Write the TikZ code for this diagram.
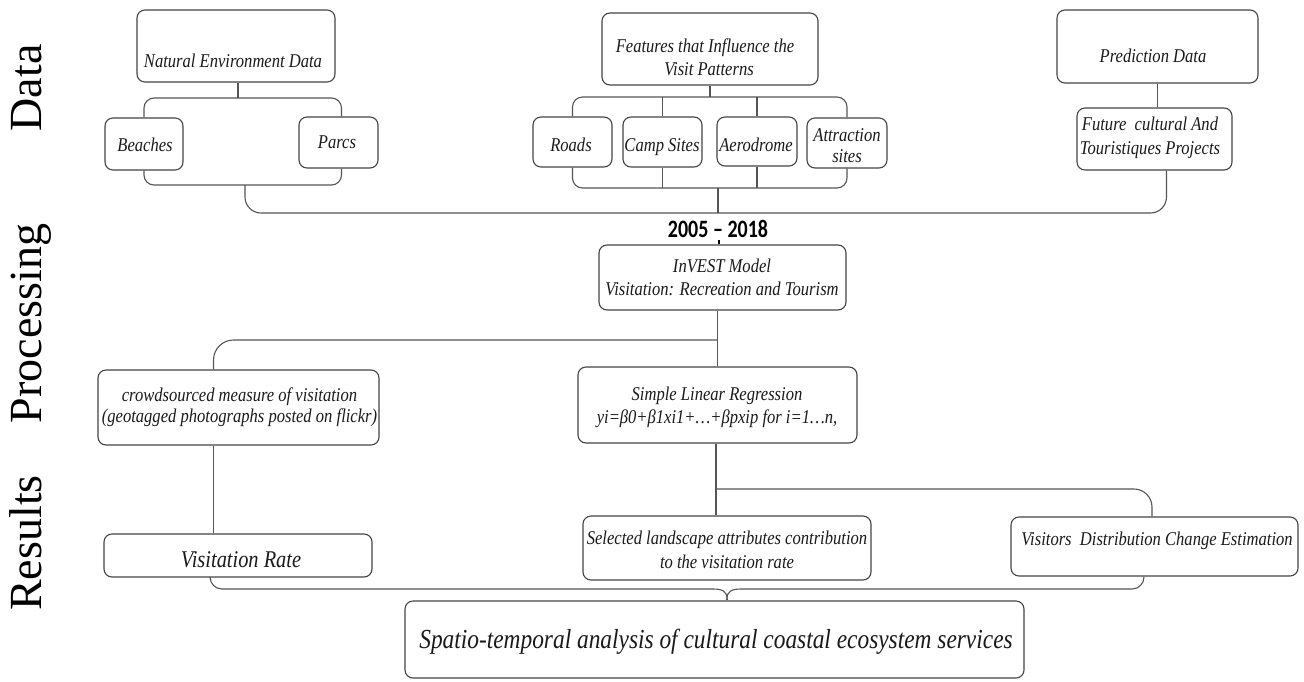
\documentclass[tikz,border=0pt]{standalone}
\usepackage{fontspec}
\setmainfont{Liberation Serif}
\newfontfamily\cserif[FakeStretch=0.85]{Liberation Serif}
\newfontfamily\calib[FakeStretch=0.8]{Carlito}
\definecolor{linec}{HTML}{555555}
\definecolor{boxc}{HTML}{444444}
\definecolor{txtc}{HTML}{1A1A1A}
\begin{document}
\begin{tikzpicture}[x=1pt,y=-1pt,
  box/.style={draw=boxc, line width=1.1pt, rounded corners=8pt, inner sep=0pt},
  conn/.style={draw=linec, line width=1.1pt},
  t/.style={inner sep=0pt, anchor=base, text=txtc, font=\fontsize{19.5}{22}\cserif\itshape},
  tb/.style={inner sep=0pt, anchor=base, text=txtc, font=\fontsize{24}{28}\cserif\itshape},
  side/.style={inner sep=0pt, anchor=base, rotate=90, text=black, font=\fontsize{46}{46}\selectfont},
]
\fill[white] (0,0) rectangle (1304,681);
\useasboundingbox (0,0) rectangle (1304,681);

% side labels
\node[side] (ldata) at (41,88) {Data};
\node[side] (lproc) at (41,323.5) {Processing};
\node[side] (lres) at (41,543) {Results};

% boxes
\node[box, minimum width=198pt, minimum height=72pt] (ned) at (236,46) {};
\node[box, minimum width=78pt, minimum height=52pt] (beach) at (144,144) {};
\node[box, minimum width=79pt, minimum height=51pt] (parcs) at (338.5,142.5) {};
\node[box, minimum width=216pt, minimum height=72pt] (feat) at (710,49) {};
\node[box, minimum width=79pt, minimum height=50pt] (roads) at (572.5,142) {};
\node[box, minimum width=79pt, minimum height=50pt] (camp) at (662.5,142) {};
\node[box, minimum width=80pt, minimum height=49pt] (aero) at (757,141.5) {};
\node[box, minimum width=80pt, minimum height=50pt] (attr) at (847,143) {};
\node[box, minimum width=201pt, minimum height=73pt] (pred) at (1157.5,46.5) {};
\node[box, minimum width=155pt, minimum height=62pt] (fut) at (1154.5,139) {};
\node[box, minimum width=247pt, minimum height=65pt] (inv) at (722.5,277.5) {};
\node[box, minimum width=281pt, minimum height=75pt] (crowd) at (238.5,407.5) {};
\node[box, minimum width=279pt, minimum height=76pt] (slr) at (717.5,405) {};
\node[box, minimum width=268pt, minimum height=43pt] (vr) at (238,555.5) {};
\node[box, minimum width=288pt, minimum height=64pt] (sel) at (727,548) {};
\node[box, minimum width=287pt, minimum height=59pt] (vis) at (1154.5,546.5) {};
\node[box, minimum width=619pt, minimum height=77pt] (spat) at (714.5,639.5) {};

% texts
\node[t] (tned) at (233,67) {Natural Environment Data};
\node[t] (tbeach) at (145,151) {Beaches};
\node[t] (tparcs) at (337,148) {Parcs};
\node[t] (tfeat1) at (705,52) {Features that Influence the};
\node[t] (tfeat2) at (709,75) {Visit Patterns};
\node[t] (troads) at (571,151) {Roads};
\node[t] (tcamp) at (662,151) {Camp Sites};
\node[t] (taero) at (756,151) {Aerodrome};
\node[t] (tattr1) at (847,141) {Attraction};
\node[t] (tattr2) at (847,162) {sites};
\node[t] (tpred) at (1153,62) {Prediction Data};
\node[t] (tfut1) at (1150,130) {Future\ \ cultural And};
\node[t] (tfut2) at (1150,154) {Touristiques Projects};
\node[inner sep=0pt, anchor=base, text=black, font=\fontsize{25}{28}\calib\bfseries] (yrs) at (718,237) {2005 – 2018};
\node[t] (tinv1) at (722,272) {InVEST Model};
\node[t] (tinv2) at (722,295) {Visitation: Recreation and Tourism};
\node[t] (tcr1) at (239.5,401) {crowdsourced measure of visitation};
\node[t] (tcr2) at (239.5,422) {(geotagged photographs posted on flickr)};
\node[t] (tslr1) at (717,400) {Simple Linear Regression};
\node[t] (tslr2) at (717,423) {yi=β0+β1xi1+…+βpxip for i=1…n,};
\node[tb] (tvr) at (241,567) {Visitation Rate};
\node[t] (tsel1) at (727,544) {Selected landscape attributes contribution};
\node[t] (tsel2) at (727,568) {to the visitation rate};
\node[t] (tvis) at (1157,545) {Visitors\ \ Distribution Change Estimation};
\node[inner sep=0pt, anchor=base, text=txtc, font=\fontsize{27.5}{32}\cserif\itshape] (tspat) at (716,648) {Spatio-temporal analysis of cultural coastal ecosystem services};

% coordinates
\coordinate (nedbar) at (238,98);
\coordinate (nedbot) at (245,185);
\coordinate (ftop) at (710,97);
\coordinate (fbot) at (718,188);
\coordinate (bar) at (718,213);
\coordinate (pbr) at (717,340);
\coordinate (rbr) at (716,489);
\coordinate (bl) at (713,589);
\coordinate (br) at (741,589);
\coordinate (cusp) at (727,599);

% Natural environment group
\draw[conn] (ned.south -| nedbar) -- (nedbar);
\draw[conn, rounded corners=10pt] (beach.north) |- (nedbar) -| ([xshift=3pt]parcs.north);
\draw[conn, rounded corners=10pt] (beach.south) |- (nedbot) -| ([xshift=3pt]parcs.south);

% Features group
\draw[conn] (feat.south) -- (ftop);
\draw[conn, rounded corners=10pt] (roads.north) |- (ftop) -| (attr.north);
\draw[conn] (camp.north) -- (camp.north |- ftop);
\draw[conn] (aero.north) -- (aero.north |- ftop);
\draw[conn, rounded corners=10pt] (roads.south) |- (fbot) -| (attr.south);
\draw[conn] (camp.south) -- (camp.south |- fbot);
\draw[conn] (aero.south) -- (aero.south |- fbot);
\draw[conn] (fbot) -- (bar);

% Prediction group
\draw[conn] (pred.south) -- (pred.south |- fut.north);

% main bar
\draw[conn, rounded corners=16pt] (nedbot) |- (bar) -| ([xshift=12pt]fut.south);

% year tick
\draw[line width=1.1pt, black] ([xshift=-3.5pt]inv.north) -- ++(0,-4);

% processing
\draw[conn] (slr.north) -- (slr.north |- inv.south);
\draw[conn, rounded corners=20pt] (pbr) -| ([xshift=-25pt]crowd.north);
\draw[conn] ([xshift=-25pt]crowd.south) -- ([xshift=-25pt]crowd.south |- vr.north);
\draw[conn] ([xshift=-1.5pt]slr.south) -- ([xshift=-1.5pt]slr.south |- sel.north);
\draw[conn, rounded corners=18pt] (rbr) -| ([xshift=-2.5pt]vis.north);

% results to synthesis
\draw[conn, rounded corners=12pt] ([xshift=-28pt]vr.south) |- (bl);
\draw[conn] (bl) .. controls (722,589) and (727,591) .. (cusp);
\draw[conn, rounded corners=12pt] ([xshift=-10.5pt]vis.south) |- (br);
\draw[conn] (br) .. controls (732,589) and (727,591) .. (cusp);
\draw[conn] (cusp) -- (spat.north -| cusp);
\end{tikzpicture}
\end{document}
